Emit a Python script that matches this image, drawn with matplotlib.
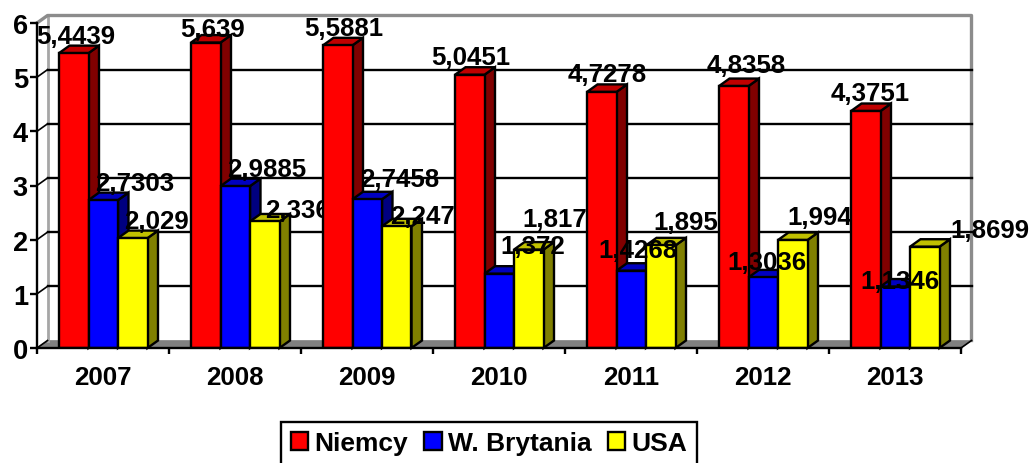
#!/usr/bin/env python3
import numpy as np
import matplotlib
matplotlib.use("Agg")
import matplotlib.pyplot as plt
from matplotlib.patches import Patch, Polygon

plt.rcParams['font.family'] = ['Liberation Sans', 'DejaVu Sans']
plt.rcParams['font.weight'] = 'bold'

# donnees
years = ["2007", "2008", "2009", "2010", "2011", "2012", "2013"]
niemcy = [5.4439, 5.639, 5.5881, 5.0451, 4.7278, 4.8358, 4.3751]
brytania = [2.7303, 2.9885, 2.7458, 1.372, 1.4268, 1.3036, 1.1346]
usa = [2.029, 2.336, 2.247, 1.817, 1.895, 1.994, 1.8699]
niemcy_txt = ["5,4439", "5,639", "5,5881", "5,0451", "4,7278", "4,8358", "4,3751"]
brytania_txt = ["2,7303", "2,9885", "2,7458", "1,372", "1,4268", "1,3036", "1,1346"]
usa_txt = ["2,029", "2,336", "2,247", "1,817", "1,895", "1,994", "1,8699"]
yticks = [0, 1, 2, 3, 4, 5, 6]

# decalage des etiquettes par rapport au sommet de la barre (pixels)
niemcy_off = [(2, 17), (7, 14), (6, 17), (1, 18), (5, 18), (12, 21), (4, 18)]
brytania_off = [(31, 17), (31, 17), (32, 20), (34, 28), (7, 21), (4, 15), (5, 6)]
usa_off = [(24, 17), (33, 11), (26, 10), (26, 31), (25, 23), (27, 23), (65, 17)]

W, H = 1032, 464
fig = plt.figure(figsize=(W / 100, H / 100), dpi=100)
ax = fig.add_axes([37 / W, (H - 349) / H, 924 / W, 325 / H])
ax.set_xlim(0, 7)
ax.set_ylim(0, 6)

# profondeur du faux 3D
px_x = 7 / 924
px_y = 6 / 325
dx = 10.5 * px_x
dy = 7.5 * px_y
bar_w = 29.5 * px_x
start = 22 * px_x
fs = 18.6
lw = 1.7

# fond : mur, sol, grille
ax.add_patch(Polygon([(0, 0), (dx, dy), (7 + dx, dy), (7, 0)], closed=True,
                     fc='#808080', ec='#808080', lw=0.5, zorder=1, clip_on=False))
for y in yticks[1:6]:
    ax.plot([dx, 7 + dx], [y + dy, y + dy], color='black', lw=lw, zorder=1.5, clip_on=False)
for y in yticks[:6]:
    ax.plot([0, dx], [y, y + dy], color='black', lw=1.2, zorder=1.5, clip_on=False)
ax.plot([7, 7 + dx], [0, dy], color='black', lw=1.2, zorder=1.5, clip_on=False)
ax.plot([dx, dx], [dy, 6 + dy], color='#a6a6a6', lw=2, zorder=1.2, clip_on=False)
ax.plot([0, dx, 7 + dx, 7 + dx], [6, 6 + dy, 6 + dy, dy], color='#8c8c8c', lw=2.4,
        zorder=1.2, clip_on=False)

series = [
    (niemcy, niemcy_txt, niemcy_off, '#ff0000', '#800000', '#c00000'),
    (brytania, brytania_txt, brytania_off, '#0000ff', '#000080', '#0000c0'),
    (usa, usa_txt, usa_off, '#ffff00', '#808000', '#c0c000'),
]

for i in range(len(years)):
    z = 10 + i * 10
    for s, (vals, txt, off, col, side, top) in enumerate(series):
        x0 = i + start + s * bar_w
        v = vals[i]
        ax.add_patch(Polygon([(x0 + bar_w, 0), (x0 + bar_w + dx, dy), (x0 + bar_w + dx, v + dy), (x0 + bar_w, v)],
                             closed=True, fc=side, ec='black', lw=lw, zorder=z + s, clip_on=False))
        ax.add_patch(Polygon([(x0, v), (x0 + dx, v + dy), (x0 + bar_w + dx, v + dy), (x0 + bar_w, v)],
                             closed=True, fc=top, ec='black', lw=lw, zorder=z + s, clip_on=False))
        ax.bar(x0, v, width=bar_w, align='edge', color=col, edgecolor='black', lw=lw, zorder=z + s)
    for s, (vals, txt, off, col, side, top) in enumerate(series):
        ax.annotate(txt[i], xy=(i + start + (s + 0.5) * bar_w, vals[i]), xytext=off[i],
                    textcoords='offset pixels', ha='center', va='center', fontsize=fs,
                    fontweight='bold', color='black', zorder=z + 5, annotation_clip=False)

# axes
for name in ['top', 'right']:
    ax.spines[name].set_visible(False)
for name in ['left', 'bottom']:
    ax.spines[name].set_linewidth(lw)
    ax.spines[name].set_zorder(100)
ax.set_yticks(yticks)
ax.set_xticks(np.arange(0, 8))
ax.set_xticklabels([])
ax.set_xticks(np.arange(len(years)) + 0.5, minor=True)
ax.set_xticklabels(years, minor=True, fontsize=fs, fontweight='bold')
ax.tick_params(axis='x', which='major', length=4.5, width=lw, direction='out')
ax.tick_params(axis='x', which='minor', length=0, pad=12.5)
ax.tick_params(axis='y', length=5, width=lw, labelsize=fs + 1, pad=1.5)

# legende
handles = [Patch(fc=s[3], ec='black', lw=lw) for s in series]
leg = fig.legend(handles, ["Niemcy", "W. Brytania", "USA"], loc='center',
                 bbox_to_anchor=(489 / W, (H - 444) / H), ncol=3, fontsize=19,
                 frameon=True, fancybox=False, edgecolor='black', framealpha=1,
                 handlelength=0.66, handleheight=0.66, handletextpad=0.25,
                 columnspacing=0.6, borderpad=0.36, borderaxespad=0)
leg.get_frame().set_linewidth(lw)

fig.savefig("out.png", dpi=100)
